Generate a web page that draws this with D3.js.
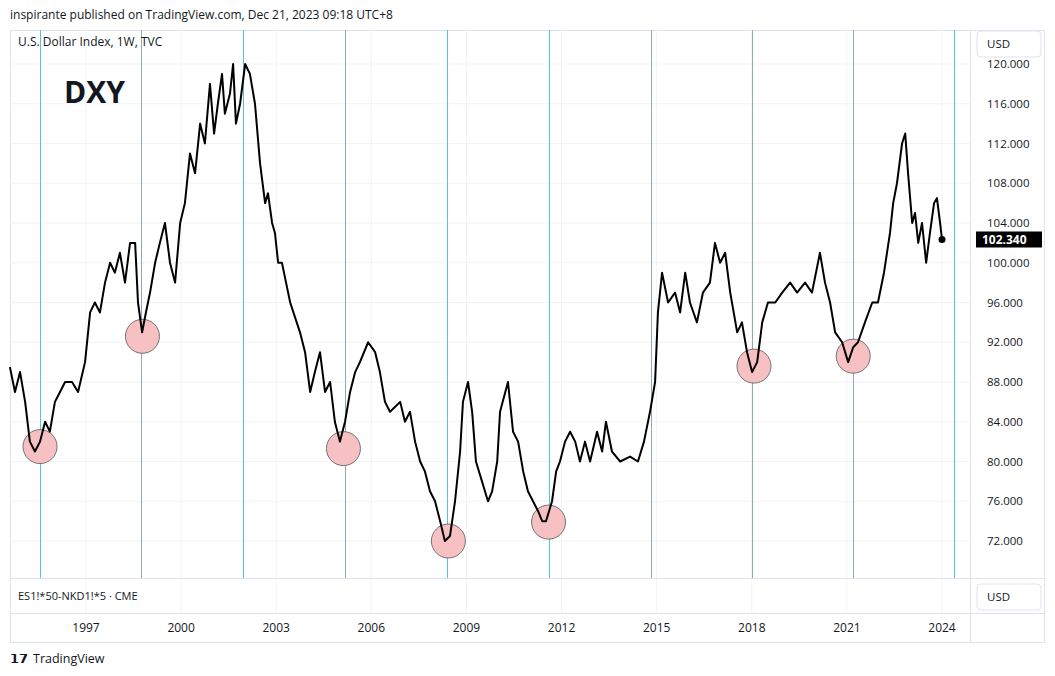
<!DOCTYPE html>
<html><head><meta charset="utf-8">
<script src="https://cdn.jsdelivr.net/npm/d3@7"></script>
<style>body{margin:0;background:#fff}text{font-family:"Open Sans",sans-serif}</style>
</head><body><svg id="c" width="1055" height="676"></svg>
<script>
const years=[1994.60,1994.76,1994.92,1995.08,1995.23,1995.39,1995.55,1995.71,1995.86,1996.02,1996.18,1996.34,1996.56,1996.75,1996.97,1997.13,1997.28,1997.44,1997.60,1997.76,1997.91,1998.07,1998.23,1998.39,1998.55,1998.64,1998.77,1998.89,1999.02,1999.18,1999.33,1999.49,1999.65,1999.81,1999.97,2000.12,2000.28,2000.44,2000.60,2000.75,2000.91,2001.04,2001.16,2001.29,2001.38,2001.54,2001.64,2001.73,2001.86,2002.02,2002.17,2002.33,2002.49,2002.65,2002.74,2002.87,2002.96,2003.06,2003.18,2003.31,2003.44,2003.75,2003.91,2004.07,2004.22,2004.38,2004.54,2004.70,2004.85,2005.01,2005.17,2005.33,2005.49,2005.64,2005.90,2006.12,2006.27,2006.43,2006.59,2006.91,2007.06,2007.22,2007.38,2007.54,2007.69,2007.85,2008.01,2008.17,2008.32,2008.48,2008.64,2008.80,2008.89,2009.05,2009.18,2009.30,2009.49,2009.68,2009.81,2009.97,2010.06,2010.31,2010.47,2010.63,2010.79,2010.94,2011.10,2011.26,2011.39,2011.51,2011.70,2011.83,2011.95,2012.11,2012.27,2012.43,2012.58,2012.74,2012.90,2013.12,2013.28,2013.40,2013.59,2013.85,2014.16,2014.41,2014.60,2014.79,2014.95,2015.04,2015.17,2015.36,2015.58,2015.74,2015.90,2016.05,2016.27,2016.46,2016.68,2016.84,2017.00,2017.16,2017.32,2017.54,2017.69,2017.85,2018.01,2018.17,2018.33,2018.51,2018.74,2018.96,2019.21,2019.43,2019.68,2019.90,2020.15,2020.31,2020.47,2020.63,2020.85,2021.04,2021.20,2021.35,2021.57,2021.80,2021.98,2022.17,2022.36,2022.46,2022.58,2022.74,2022.84,2022.93,2023.06,2023.15,2023.25,2023.37,2023.50,2023.62,2023.75,2023.84,2023.94,2024.00];
const values=[89.5,87,89,86,82,81,82,84,83,86,87,88,88,87,90,95,96,95,98,100,99,101,98,102,102,96,93,95,97,100,102,104,100,98,104,106,111,109,114,112,118,113,116,119,115,117,120,114,116,120,119,116,110,106,107,104,103,100,100,98,96,93,91,87,89,91,87,88,84,82,84,87,89,90,92,91,89,86,85,86,84,85,82,80,79,77,76,74,72,72.5,76,81,86,88,85,80,78,76,77,80,85,88,83,82,79,77,76,75,74,74,76,79,80,82,83,82,80,82,80,83,81,84,81,80,80.5,80,82,85,88,95,99,96,97,95,99,96,94,97,98,102,100,101,97,93,94,91,89,90,94,96,96,97,98,97,98,97,101,98,96,93,92,90,91.5,92,94,96,96,99,103,106,108,112,113,109,104,105,102,104,100,103,106,106.5,104,102.34];
const priceTicks=[72,76,80,84,88,92,96,100,104,108,112,116,120];
const yearTicks=[1997,2000,2003,2006,2009,2012,2015,2018,2021,2024];
const cycleLines=[1995.55,1998.75,2001.96,2005.17,2008.38,2011.59,2014.81,2018.01,2021.20,2024.38];
const cycleColors=["#5bc3d6","#8fa9b8","#5bc3d6","#8fa9b8","#5bc3d6","#5bc3d6","#8fa9b8","#8fa9b8","#8fa9b8","#5bc3d6"];
const lows=[[1995.55,81.5],[1998.78,92.6],[2005.12,81.3],[2008.43,72],[2011.59,73.9],[2018.07,89.6],[2021.20,90.6]];

const svg=d3.select("#c");
const L=10,R=970,T=30,B=578;
const x=d3.scaleLinear().domain([1997,2024]).range([86,942]);
const y=d3.scaleLinear().domain([72,120]).range([541,64]);
svg.append("rect").attr("x",10.5).attr("y",30.5).attr("width",1034).attr("height",612).attr("fill","none").attr("stroke","#e0e3eb");
svg.append("text").attr("x",10).attr("y",19).attr("font-size",12).attr("fill","#131722").text("inspirante published on TradingView.com, Dec 21, 2023 09:18 UTC+8");
const g=svg.append("g");
g.selectAll(".hg").data(priceTicks).join("line").attr("x1",L).attr("x2",R).attr("y1",d=>y(d)).attr("y2",d=>y(d)).attr("stroke","#f0f3fa");
g.selectAll(".vg").data(yearTicks).join("line").attr("x1",d=>x(d)).attr("x2",d=>x(d)).attr("y1",T).attr("y2",613).attr("stroke","#f0f3fa");
g.selectAll(".cl").data(cycleLines).join("line").attr("x1",d=>Math.round(x(d))+0.5).attr("x2",d=>Math.round(x(d))+0.5).attr("y1",T).attr("y2",B).attr("stroke",(d,i)=>cycleColors[i]).attr("stroke-width",1);
g.selectAll(".lo").data(lows).join("circle").attr("cx",d=>x(d[0])).attr("cy",d=>y(d[1])).attr("r",17).attr("fill","#f7c1c4").attr("stroke","#555").attr("stroke-width",0.8);
const line=d3.line().x((d,i)=>x(years[i])).y(d=>y(d));
g.append("path").datum(values).attr("d",line).attr("fill","none").attr("stroke","#000").attr("stroke-width",2).attr("stroke-linejoin","round");
g.append("circle").attr("cx",x(years[years.length-1])).attr("cy",y(values[values.length-1])).attr("r",3.5).attr("fill","#000");
svg.append("text").attr("x",18).attr("y",46).attr("font-size",12).attr("fill","#131722").text("U.S. Dollar Index, 1W, TVC");
svg.append("text").attr("x",64).attr("y",103).attr("font-size",30).attr("font-weight","bold").attr("fill","#131722").text("DXY");
// separators
[[R,T,R,643],[L,B,1045,B],[L,613,1045,613]].forEach(s=>svg.append("line").attr("x1",s[0]+0.5).attr("y1",s[1]+0.5).attr("x2",s[2]+0.5).attr("y2",s[3]+0.5).attr("stroke","#e0e3eb"));
svg.selectAll(".pt").data(priceTicks).join("text").attr("x",987).attr("y",d=>y(d)+4).attr("font-size",11.5).attr("fill","#131722").text(d=>d3.format(".3f")(d));
svg.append("rect").attr("x",977).attr("y",31).attr("width",64).attr("height",26).attr("rx",4).attr("fill","#fff").attr("stroke","#e0e3eb");
svg.append("text").attr("x",987).attr("y",48).attr("font-size",11.5).attr("fill","#131722").text("USD");
svg.append("rect").attr("x",976).attr("y",y(102.34)-8).attr("width",66).attr("height",16).attr("fill","#000");
svg.append("text").attr("x",982).attr("y",y(102.34)+4.5).attr("font-size",12).attr("font-weight","bold").attr("fill","#fff").text("102.340");
svg.append("text").attr("x",18).attr("y",600).attr("font-size",11).attr("fill","#131722").text("ES1!*50-NKD1!*5 · CME");
svg.append("rect").attr("x",977).attr("y",584).attr("width",64).attr("height",26).attr("rx",4).attr("fill","#fff").attr("stroke","#e0e3eb");
svg.append("text").attr("x",987).attr("y",601).attr("font-size",11.5).attr("fill","#131722").text("USD");
svg.selectAll(".yt").data(yearTicks).join("text").attr("x",d=>x(d)).attr("y",632).attr("text-anchor","middle").attr("font-size",12).attr("fill","#131722").text(d=>d);
svg.append("text").attr("x",10).attr("y",663).attr("font-size",13).attr("font-weight","bold").attr("fill","#131722").text("𝟭𝟳");
svg.append("text").attr("x",33).attr("y",663).attr("font-size",12.5).attr("fill","#131722").text("TradingView");
</script></body></html>
